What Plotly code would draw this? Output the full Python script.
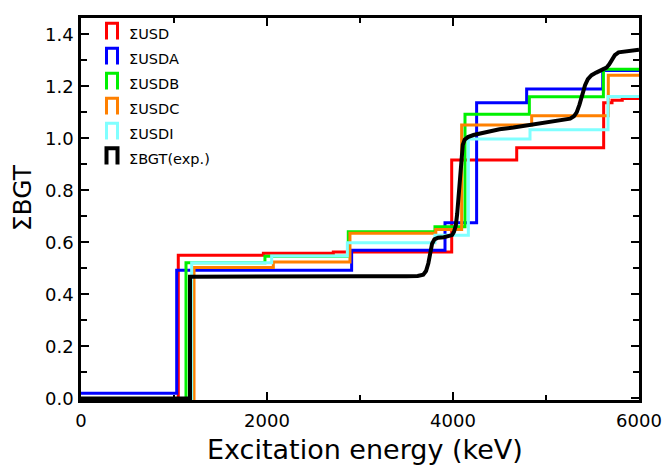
import plotly.graph_objects as go

# ---------------- data ----------------
series_names = ["ΣUSD", "ΣUSDA", "ΣUSDB", "ΣUSDC", "ΣUSDI", "ΣBGT(exp.)"]
series_colors = ["#ff0000", "#0000ff", "#00f000", "#ff8000", "#80ffff", "#000000"]

usd_x = [0, 1046, 1961, 2713, 3986, 4685, 5620, 5710, 5820, 6000]
usd_y = [0.0, 0.551, 0.558, 0.563, 0.917, 0.964, 1.137, 1.147, 1.153, 1.153]

usda_x = [0, 1029, 2910, 3914, 4254, 4792, 5610, 6000]
usda_y = [0.02, 0.493, 0.570, 0.676, 1.137, 1.190, 1.261, 1.261]

usdb_x = [0, 1129, 1978, 2874, 3806, 4129, 4821, 5617, 6000]
usdb_y = [0.0, 0.522, 0.547, 0.641, 0.660, 1.093, 1.160, 1.266, 1.266]

usdc_x = [0, 1215, 2068, 2892, 3815, 4093, 4846, 5670, 6000]
usdc_y = [0.0, 0.504, 0.525, 0.635, 0.650, 1.052, 1.087, 1.243, 1.243]

usdi_x = [0, 1190, 2050, 2864, 3806, 4165, 4828, 5667, 6000]
usdi_y = [0.0, 0.522, 0.548, 0.599, 0.628, 0.998, 1.033, 1.161, 1.161]

exp_x = [0, 1172, 1172, 1500, 2000, 2500, 3000, 3500, 3620, 3680, 3710, 3735,
         3755, 3775, 3800, 3840, 3900, 3960, 3990, 4010, 4030, 4045, 4060,
         4075, 4090, 4105, 4125, 4160, 4220, 4300, 4400, 4500, 4650, 4800,
         4950, 5100, 5200, 5260, 5300, 5330, 5360, 5390, 5420, 5450, 5490,
         5540, 5600, 5650, 5680, 5710, 5740, 5780, 5850, 5930, 6000]
exp_y = [0.0, 0.0, 0.468, 0.469, 0.469, 0.469, 0.470, 0.470, 0.471, 0.476,
         0.49, 0.52, 0.56, 0.595, 0.612, 0.618, 0.620, 0.623, 0.628, 0.64,
         0.665, 0.71, 0.78, 0.86, 0.93, 0.975, 0.995, 1.005, 1.013, 1.020,
         1.028, 1.035, 1.042, 1.050, 1.057, 1.064, 1.070, 1.076, 1.085, 1.10,
         1.13, 1.17, 1.205, 1.228, 1.243, 1.253, 1.262, 1.272, 1.285, 1.303,
         1.32, 1.331, 1.335, 1.338, 1.341]

x_ticks = [0, 2000, 4000, 6000]
y_ticks = [0.0, 0.2, 0.4, 0.6, 0.8, 1.0, 1.2, 1.4]

# ---------------- figure ----------------
W, H = 663, 467
ML, MR, MT, MB = 81, 24, 18, 67
PW, PH = W - ML - MR, H - MT - MB

def px(xp):
    return (xp - ML) / PW

def py(yp):
    return (H - MB - yp) / PH

FONT = "DejaVu Sans"

fig = go.Figure()
steps = [(usd_x, usd_y), (usda_x, usda_y), (usdb_x, usdb_y),
         (usdc_x, usdc_y), (usdi_x, usdi_y)]
for (xs, ys), name, col in zip(steps, series_names[:5], series_colors[:5]):
    fig.add_trace(go.Scatter(x=xs, y=ys, mode="lines", name=name,
                             line=dict(color=col, width=3, shape="hv"),
                             showlegend=False))
fig.add_trace(go.Scatter(x=exp_x, y=exp_y, mode="lines", name=series_names[5],
                         line=dict(color=series_colors[5], width=4,
                                   shape="linear"),
                         showlegend=False))

axis_common = dict(showline=True, linewidth=2.5, linecolor="black",
                   mirror="ticks", ticks="inside", ticklen=8, tickwidth=2,
                   tickcolor="black", showgrid=False, zeroline=False,
                   automargin=False,
                   tickfont=dict(family=FONT, size=18, color="black"))

fig.update_xaxes(range=[0, 6000], tickvals=x_ticks,
                 ticktext=[str(v) for v in x_ticks],
                 minor=dict(dtick=1000, tick0=0, ticks="inside", ticklen=5,
                            tickwidth=2, tickcolor="black"),
                 ticklabelstandoff=3, **axis_common)
fig.update_yaxes(range=[-0.006, 1.463], tickvals=y_ticks,
                 ticktext=[f"{v:.1f}" for v in y_ticks],
                 minor=dict(dtick=0.1, tick0=0, ticks="inside", ticklen=6,
                            tickwidth=2, tickcolor="black"),
                 ticklabelstandoff=1, **axis_common)

annotations = [
    dict(text="Excitation energy (keV)", xref="paper", yref="paper",
         x=px(364.7), y=py(449), xanchor="center", yanchor="middle",
         showarrow=False, font=dict(family=FONT, size=27, color="black")),
    dict(text="ΣBGT", xref="paper", yref="paper", x=px(22.8), y=py(197.5),
         xanchor="center", yanchor="middle", textangle=-90, showarrow=False,
         font=dict(family=FONT, size=25, color="black")),
]
shapes = []
for k, (name, col) in enumerate(zip(series_names, series_colors)):
    top = 23.2 + 25 * k
    bot = 39.5 + 25 * k
    left, right = 106.5, 117.5
    path = (f"M {px(left)},{py(bot)} L {px(left)},{py(top)} "
            f"L {px(right)},{py(top)} L {px(right)},{py(bot)}")
    shapes.append(dict(type="path", xref="paper", yref="paper", path=path,
                       line=dict(color=col, width=4 if k == 5 else 3)))
    annotations.append(dict(text=name, xref="paper", yref="paper",
                            x=px(127), y=py(34.2 + 25 * k), xanchor="left",
                            yanchor="middle", showarrow=False,
                            font=dict(family=FONT, size=14.5, color="black")))

fig.update_layout(width=W, height=H,
                  margin=dict(l=ML, r=MR, t=MT, b=MB, pad=0),
                  paper_bgcolor="white", plot_bgcolor="white",
                  showlegend=False, annotations=annotations, shapes=shapes)

fig.write_html("out.html")
